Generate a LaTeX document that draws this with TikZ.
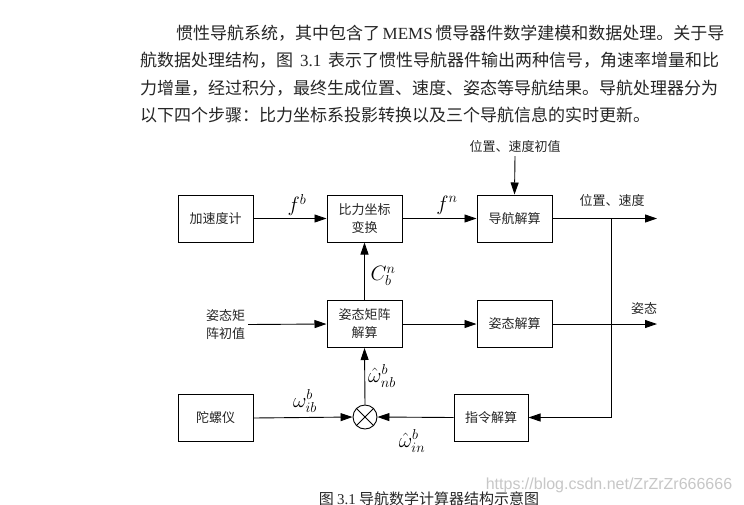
\documentclass[tikz,border=0pt]{standalone}
\usepackage{fontspec}
\setmainfont{Liberation Serif}
\newfontfamily\cjk{Noto Sans CJK SC}
\newfontfamily\wmfont{Liberation Sans}
\usetikzlibrary{arrows.meta}
\XeTeXlinebreaklocale "zh"
\XeTeXlinebreakskip=0pt plus 2pt
\begin{document}
\begin{tikzpicture}[x=1pt,y=-1pt,
  blk/.style={draw, line width=1pt, minimum width=75pt, minimum height=47pt, inner sep=0pt,
    font=\cjk\fontsize{13}{18}\selectfont, align=center, text=black!85},
  arr/.style={-{Triangle[length=12pt,width=8pt]}, line width=0.9pt},
  lbl/.style={font=\cjk\fontsize{13}{18}\selectfont, inner sep=0pt, text=black!85, align=center},
  mlbl/.style={font=\fontsize{20}{22}\selectfont, inner sep=0pt},
  para/.style={font=\cjk\fontsize{17}{20}\selectfont, inner sep=0pt, anchor=west, text=black!85}]
\useasboundingbox (0,0) rectangle (744,504);
\fill[white] (0,0) rectangle (744,504);
% paragraph
\node[para] (p1) at (176,33) {\makebox[544pt][s]{惯性导航系统，其中包含了 {\rmfamily MEMS} 惯导器件数学建模和数据处理。关于导}};
\node[para] (p2) at (140,60) {\makebox[579pt][s]{航数据处理结构，图 {\rmfamily 3.1} 表示了惯性导航器件输出两种信号，角速率增量和比}};
\node[para] (p3) at (140,88) {\makebox[578pt][s]{力增量，经过积分，最终生成位置、速度、姿态等导航结果。导航处理器分为}};
\node[para] (p4) at (140,115) {以下四个步骤：比力坐标系投影转换以及三个导航信息的实时更新。};
% blocks
\node[blk] (acc) at (215.5,218.5) {加速度计};
\node[blk] (bili) at (364.5,218.5) {比力坐标\\变换};
\node[blk] (nav) at (514.5,218.5) {导航解算};
\node[blk] (zjz) at (364.5,324) {姿态矩阵\\解算};
\node[blk] (zt) at (514.5,324) {姿态解算};
\node[blk] (tly) at (215.5,418) {陀螺仪};
\node[blk, minimum width=74pt] (zl) at (491,417.5) {指令解算};
\node[draw, circle, line width=0.9pt, minimum size=24pt, inner sep=0pt] (sum) at (365,417) {};
\draw[line width=0.8pt] (sum.north west) -- (sum.south east) (sum.north east) -- (sum.south west);
% text inputs
\node[lbl] (init1) at (515,147) {位置、速度初值};
\node[lbl] (init2) at (225.5,324.5) {姿态矩\\阵初值};
\node[lbl] (o1) at (612,201) {位置、速度};
\node[lbl] (o2) at (644,309) {姿态};
\coordinate (out1) at (657,218.5);
\coordinate (out2) at (657,324);
\coordinate (sp) at (611,218.5);
% connectors
\draw[arr] (acc) -- (bili);
\draw[arr] (bili) -- (nav);
\draw[arr] (init1.south) ++(0,3) -- (nav.north);
\draw[arr] (nav) -- (out1);
\draw[arr] (init2.east) ++(3,0) -- (zjz.west);
\draw[arr] (zjz) -- (bili);
\draw[arr] (zjz) -- (zt);
\draw[arr] (zt) -- (out2);
\draw[arr] (sp) |- (zl.east);
\draw[arr] (tly.east) -- (sum.west);
\draw[arr] (zl.west) -- (sum.east);
\draw[arr] (sum.north) -- (zjz.south);
% math labels
\node[mlbl] (fb) at (297,205) {$f^{b}$};
\node[mlbl] (fn) at (447,205) {$f^{n}$};
\node[mlbl] (cbn) at (383,276) {$C_{b}^{n}$};
\node[mlbl] (wnb) at (382,376) {$\hat{\omega}_{nb}^{b}$};
\node[mlbl] (wib) at (305,401) {$\omega_{ib}^{b}$};
\node[mlbl] (win) at (412,441) {$\hat{\omega}_{in}^{b}$};
% caption and watermark
\node[font=\cjk\fontsize{15}{18}\selectfont, inner sep=0pt, text=black!85] (cap) at (429,499) {图 {\rmfamily 3.1} 导航数学计算器结构示意图};
\node[font=\wmfont\fontsize{16}{16}\selectfont, inner sep=0pt, text=black!22] (wm) at (609,485) {https://blog.csdn.net/ZrZrZr666666};
\end{tikzpicture}
\end{document}
